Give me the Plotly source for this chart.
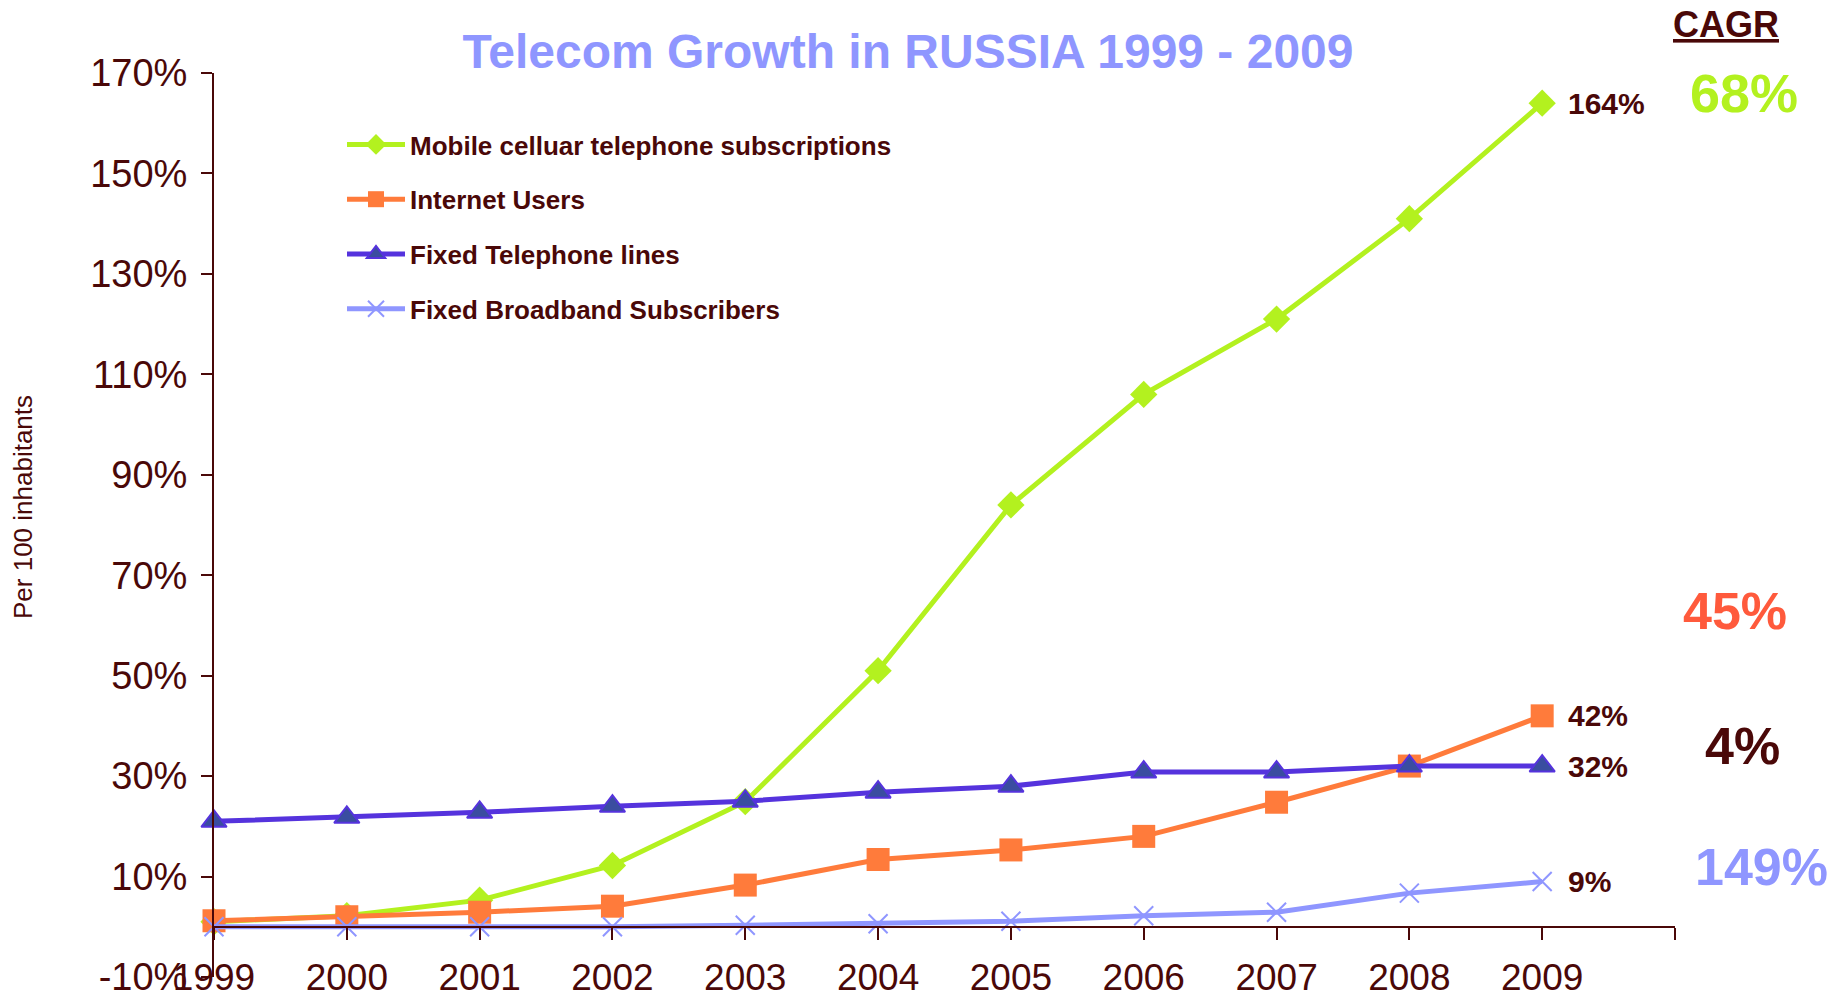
import plotly.graph_objects as go

# ---------------- data ----------------
years = [1999, 2000, 2001, 2002, 2003, 2004, 2005, 2006, 2007, 2008, 2009]
mobile = [1.0, 2.2, 5.3, 12.2, 24.9, 51.0, 84.0, 106.0, 121.0, 141.0, 164.0]
internet = [1.2, 2.0, 2.9, 4.1, 8.3, 13.4, 15.3, 18.0, 24.8, 32.0, 42.0]
fixed_tel = [21.0, 21.8, 22.8, 24.0, 25.0, 26.8, 28.0, 30.8, 30.8, 32.0, 32.0]
broadband = [0.0, 0.0, 0.0, 0.0, 0.3, 0.6, 1.1, 2.2, 2.9, 6.7, 9.0]

series_names = [
    "Mobile celluar telephone subscriptions",
    "Internet Users",
    "Fixed Telephone lines",
    "Fixed Broadband Subscribers",
]
cagr_labels = ["68%", "45%", "4%", "149%"]
y_tick_vals = [-10, 10, 30, 50, 70, 90, 110, 130, 150, 170]
y_tick_text = [f"{v}%" for v in y_tick_vals]
x_tick_text = [str(y) for y in years]
title_text = "Telecom Growth in RUSSIA 1999 - 2009"
y_title = "Per 100 inhabitants"

# ---------------- styles ----------------
FONT = "Liberation Sans, Arial, Helvetica, sans-serif"
MAROON = "#4A0808"
GREEN = "#B3F11F"
ORANGE = "#FF7B3B"
PURPLE = "#5533DD"
TRI_FILL = "#3A4DA0"
LILAC = "#8F96FF"
CAGR_COLORS = [GREEN, "#FF5A3C", MAROON, LILAC]

W, H = 1840, 998
L, R, T, B = 214, 165, 73, 21
PW, PH = W - L - R, H - T - B


def px_x(px):
    return (px - L) / PW


def px_y(py):
    return (H - B - py) / PH


fig = go.Figure()

styles = [
    dict(color=GREEN, marker=dict(symbol="diamond", size=21, color=GREEN)),
    dict(color=ORANGE, marker=dict(symbol="square", size=23, color=ORANGE)),
    dict(color=PURPLE, marker=dict(symbol="triangle-up", size=22, color=TRI_FILL,
                                   line=dict(color=PURPLE, width=2))),
    dict(color=LILAC, marker=dict(symbol="x-thin", size=19, color=LILAC,
                                  line=dict(color=LILAC, width=2))),
]
for i, (name, vals) in enumerate(zip(series_names, [mobile, internet, fixed_tel, broadband])):
    st = styles[i]
    fig.add_trace(go.Scatter(
        x=years, y=vals, name=name, mode="lines+markers",
        line=dict(color=st["color"], width=5),
        marker=st["marker"], cliponaxis=False,
        legendgroup=f"g{i}", xaxis="x", yaxis="y",
    ))

# dummy trace to carry the zero-line axis with ticks
fig.add_trace(go.Scatter(x=[years[0]], y=[0], mode="none", showlegend=False,
                         hoverinfo="skip", xaxis="x2", yaxis="y"))

annotations = []
# end-of-line value labels
for vals in [mobile, internet, fixed_tel, broadband]:
    annotations.append(dict(
        x=years[-1], y=vals[-1], xref="x", yref="y", xanchor="left", yanchor="middle",
        xshift=24, text=f"<b>{vals[-1]:.0f}%</b>", showarrow=False,
        font=dict(family=FONT, size=30, color=MAROON),
    ))

# CAGR header and values
annotations.append(dict(
    x=px_x(1726), y=px_y(25), xref="paper", yref="paper", xanchor="center", yanchor="middle",
    text="<b><u>CAGR</u></b>", showarrow=False, font=dict(family=FONT, size=36, color=MAROON),
))
cagr_pos = [(1744, 93, 54), (1735, 611, 52), (1742, 746, 52), (1761, 867, 52)]
for lab, col, (cx, cy, fs) in zip(cagr_labels, CAGR_COLORS, cagr_pos):
    annotations.append(dict(
        x=px_x(cx), y=px_y(cy), xref="paper", yref="paper", xanchor="center", yanchor="middle",
        text=f"<b>{lab}</b>", showarrow=False, font=dict(family=FONT, size=fs, color=col),
    ))

# y axis title
annotations.append(dict(
    x=px_x(23), y=px_y(507), xref="paper", yref="paper", xanchor="center", yanchor="middle",
    text=y_title, textangle=-90, showarrow=False,
    font=dict(family=FONT, size=26, color=MAROON),
))

fig.update_layout(
    width=W, height=H,
    margin=dict(l=L, r=R, t=T, b=B, pad=0, autoexpand=False),
    plot_bgcolor="white", paper_bgcolor="white",
    font=dict(family=FONT, color=MAROON),
    title=dict(text=f"<b>{title_text}</b>", x=px_x(908), xref="paper", xanchor="center",
               y=1 - 51 / H, yanchor="middle", automargin=False,
               font=dict(family=FONT, size=48, color=LILAC)),
    showlegend=True,
    legend=dict(x=px_x(342), y=px_y(121), xanchor="left", yanchor="top",
                itemwidth=58, traceorder="grouped", tracegroupgap=18,
                font=dict(family=FONT, size=26, color=MAROON, weight="bold"),
                bgcolor="rgba(0,0,0,0)", borderwidth=0),
    xaxis=dict(range=[1999, 2010], anchor="free", position=0.028, automargin=False,
               showline=False, ticks="", tickvals=years, ticktext=x_tick_text,
               ticklabeloverflow="allow",
               tickfont=dict(family=FONT, size=37, color=MAROON),
               showgrid=False, zeroline=False),
    xaxis2=dict(range=[1999, 2010], overlaying="x", matches="x", anchor="free",
                position=(0 - y_tick_vals[0]) / (170 - y_tick_vals[0]), automargin=False,
                showline=True, linecolor=MAROON, linewidth=2,
                ticks="outside", ticklen=12, tickwidth=2, tickcolor=MAROON,
                tickvals=years + [2010], showticklabels=False,
                showgrid=False, zeroline=False),
    yaxis=dict(range=[-10, 170], tickvals=y_tick_vals, ticktext=y_tick_text, automargin=False,
               showline=True, linecolor=MAROON, linewidth=2,
               ticks="outside", ticklen=11, tickwidth=2, tickcolor=MAROON,
               ticklabelstandoff=6, ticklabeloverflow="allow",
               tickfont=dict(family=FONT, size=38, color=MAROON),
               showgrid=False, zeroline=False),
    annotations=annotations,
)

fig.write_html("out.html")
